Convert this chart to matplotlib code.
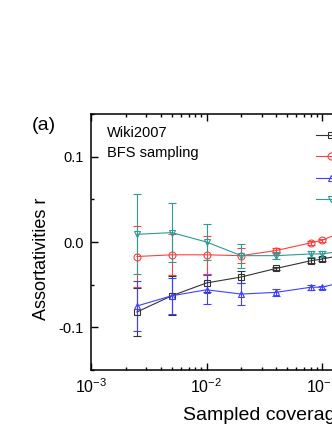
import numpy as np
import matplotlib.pyplot as plt
from matplotlib.lines import Line2D
from matplotlib.ticker import LogLocator, MultipleLocator, FormatStrFormatter

plt.rcParams['font.family'] = ['Liberation Sans', 'DejaVu Sans']
plt.rcParams['mathtext.fontset'] = 'custom'
plt.rcParams['mathtext.rm'] = 'Liberation Sans'
plt.rcParams['mathtext.it'] = 'Liberation Sans:italic'

# sampled coverage
coverage = [0.0025, 0.005, 0.01, 0.02, 0.04, 0.08, 0.1, 0.2]

r_oi = [-0.082, -0.063, -0.048, -0.041, -0.031, -0.022, -0.020, -0.012]
r_oi_err = [0.028, 0.023, 0.011, 0.007, 0.002, 0.003, 0.002, 0.002]

r_io = [-0.017, -0.015, -0.015, -0.016, -0.010, -0.001, 0.002, 0.019]
r_io_err = [0.036, 0.024, 0.022, 0.009, 0.003, 0.002, 0.002, 0.002]

r_oo = [-0.075, -0.063, -0.056, -0.061, -0.059, -0.053, -0.053, -0.043]
r_oo_err = [0.029, 0.021, 0.017, 0.013, 0.004, 0.003, 0.002, 0.002]

r_ii = [0.009, 0.011, 0.000, -0.016, -0.016, -0.014, -0.014, -0.008]
r_ii_err = [0.047, 0.035, 0.021, 0.014, 0.004, 0.004, 0.003, 0.002]

series = [
    (r_oi, r_oi_err, '#333333', 's', r'$r_{out,in}$'),
    (r_io, r_io_err, '#ff4040', 'o', r'$r_{in,out}$'),
    (r_oo, r_oo_err, '#4040ff', '^', r'$r_{out,out}$'),
    (r_ii, r_ii_err, '#2e9a94', 'v', r'$r_{in,in}$'),
]

fig = plt.figure(figsize=(3.32, 4.30), dpi=100)
ax = fig.add_axes([91/332, 1 - 370/430, 346.5/332, 256/430])

handles = []
for vals, err, col, mk, lab in series:
    ax.errorbar(coverage, vals, yerr=err, color=col, marker=mk, markersize=5,
                markerfacecolor='none', markeredgewidth=0.8, linewidth=0.8,
                elinewidth=0.8, capsize=2.8, capthick=0.8)
    handles.append(Line2D([], [], color=col, marker=mk, markersize=5,
                          markerfacecolor='none', markeredgewidth=0.8,
                          linewidth=0.8, label=lab))

ax.set_xscale('log')
ax.set_xlim(1e-3, 1)
ax.set_ylim(-0.15, 0.15)
ax.xaxis.set_major_locator(LogLocator(base=10, numticks=10))
ax.xaxis.set_minor_locator(LogLocator(base=10, subs=np.arange(2, 10), numticks=10))
ax.yaxis.set_major_locator(MultipleLocator(0.1))
ax.yaxis.set_minor_locator(MultipleLocator(0.05))
ax.yaxis.set_major_formatter(FormatStrFormatter('%.1f'))

ax.tick_params(which='both', direction='in', top=True, right=True, labelsize=10.5, width=1)
ax.tick_params(axis='x', labelsize=11.5)
ax.tick_params(which='major', length=5, pad=5)
ax.tick_params(which='minor', length=2.5)
for s in ax.spines.values():
    s.set_linewidth(1.1)

ax.set_xlabel('Sampled coverage', fontsize=14, labelpad=8)
fig.text(41/332, 1 - 259/430, 'Assortativities r', rotation=90, fontsize=13,
         ha='center', va='center')
fig.text(32/332, 1 - 125/430, '(a)', fontsize=14, ha='left', va='center')
fig.text(107/332, 1 - 133/430, 'Wiki2007', fontsize=10.5, va='center')
fig.text(107/332, 1 - 153/430, 'BFS sampling', fontsize=10.5, va='center')

ax.legend(handles=handles, loc='upper left', bbox_to_anchor=(316/332, 1 - 129/430),
          bbox_transform=fig.transFigure, frameon=False, fontsize=10.5,
          handlelength=2.0, labelspacing=0.3, borderaxespad=0, borderpad=0)

fig.savefig('out.png', dpi=100)
